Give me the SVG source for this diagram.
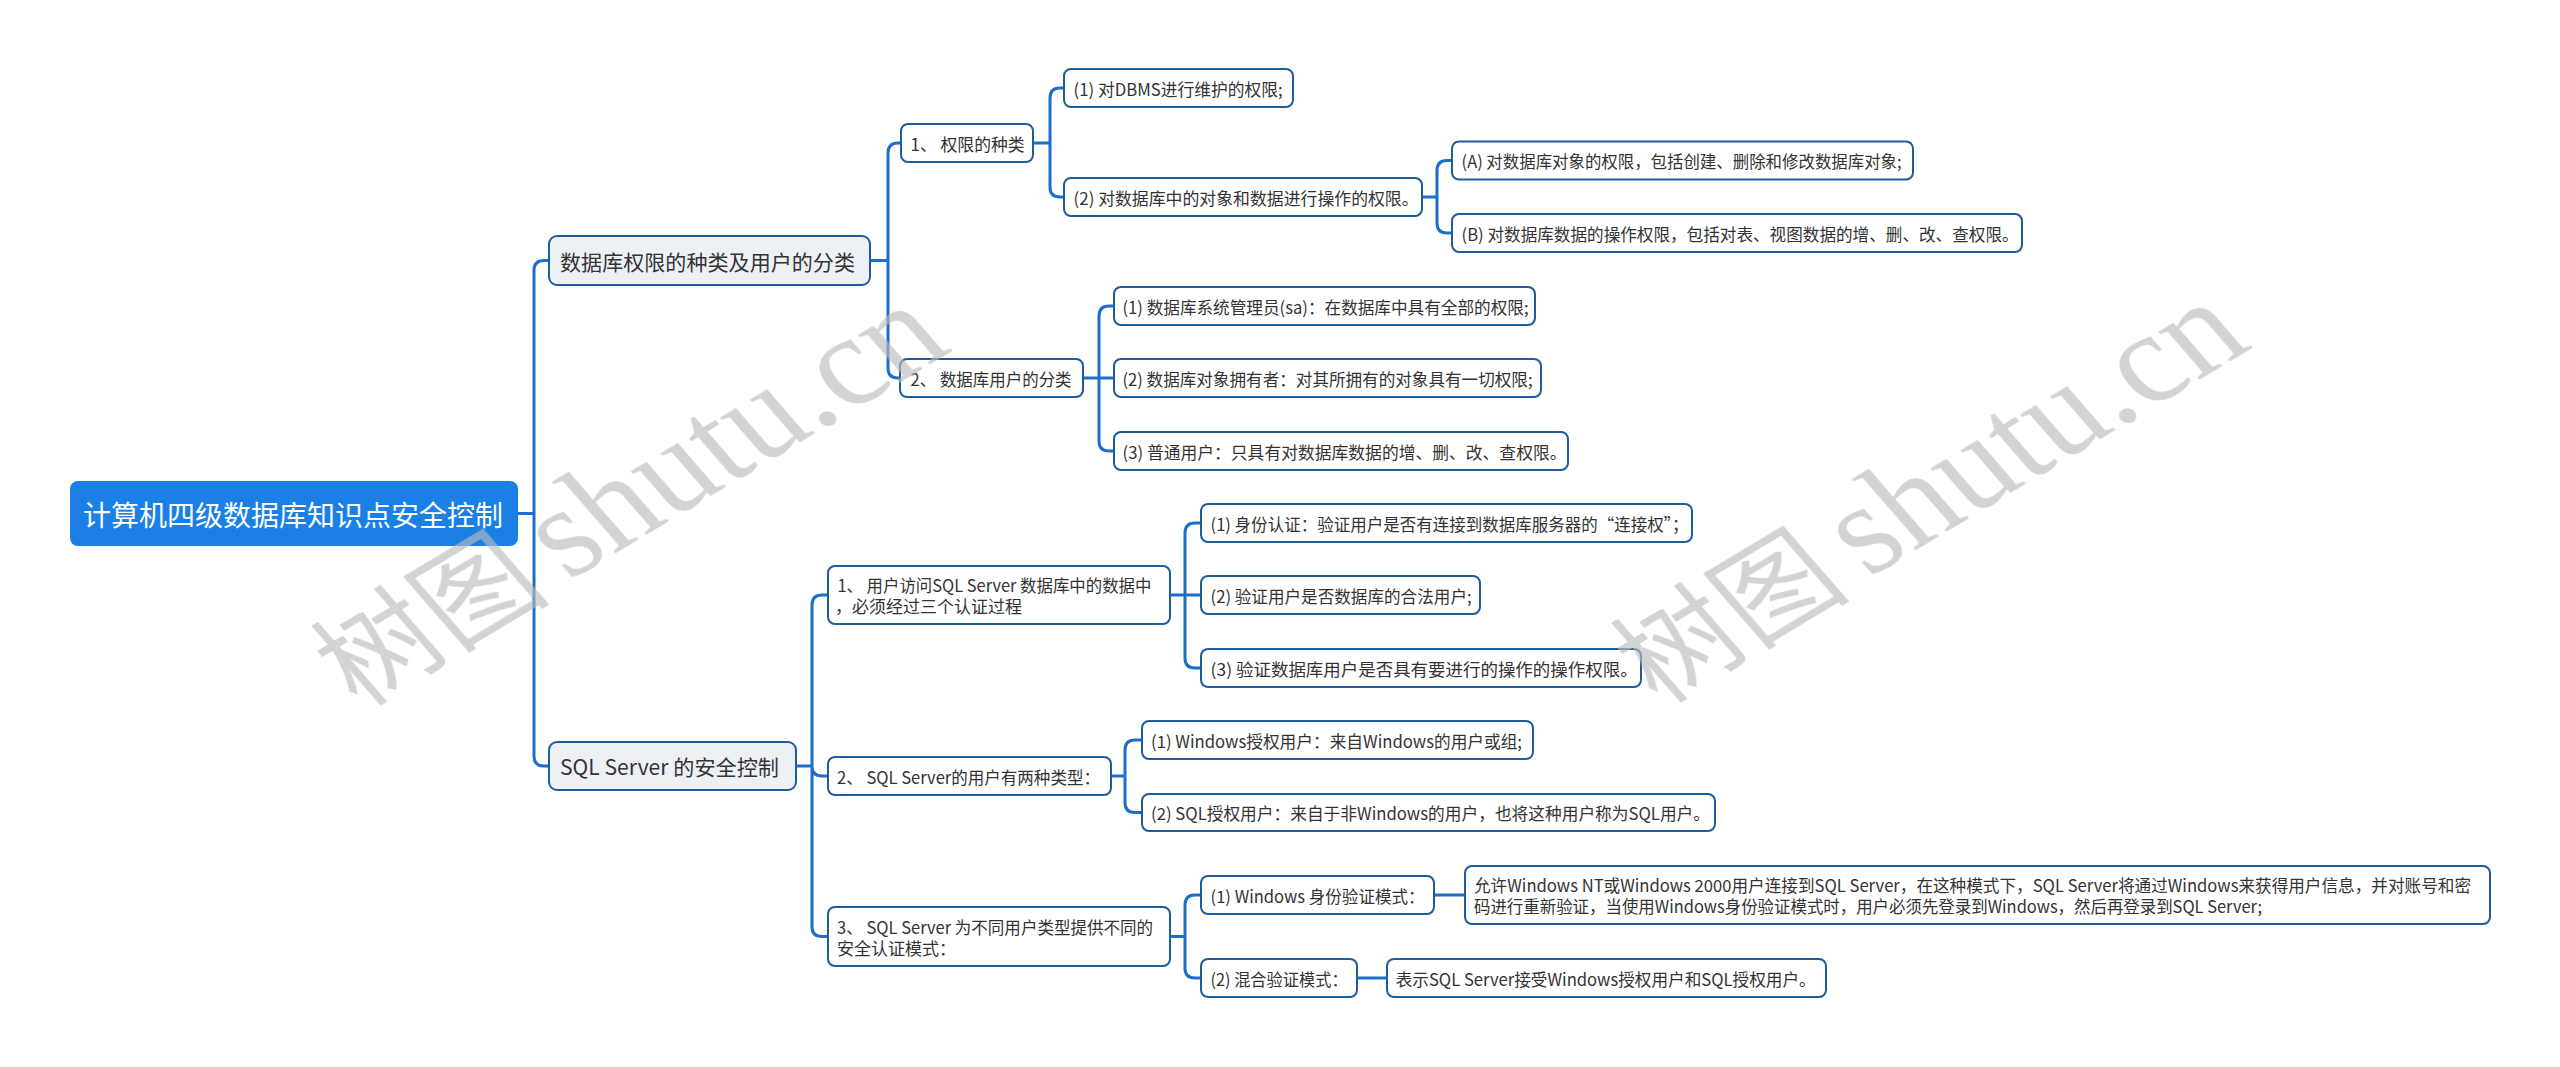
<svg xmlns="http://www.w3.org/2000/svg" width="2560" height="1067" viewBox="0 0 2560 1067">
<style>
.bg{fill:#ffffff}
.c{fill:none;stroke:#1c6ec9;stroke-width:3;stroke-linecap:round;stroke-linejoin:round}
.box{fill:#ffffff;stroke:#1e5c9e;stroke-width:2}
.l1{fill:#edf1f6;stroke:#1e5c9e;stroke-width:2}
.root{fill:#1a80e6}
text{font-family:"Noto Sans CJK SC","Noto Sans",sans-serif;dominant-baseline:central}
.t{font-size:17px;fill:#333333}
.t1{font-size:21px;fill:#333333}
.tr{font-size:28px;fill:#ffffff}
.wm{fill:#bbbbbb;opacity:0.65}
.wmc{font-family:"Noto Sans CJK SC",sans-serif;font-size:112px;dominant-baseline:alphabetic}
.wml{font-family:"Liberation Serif",serif;font-size:136px;dominant-baseline:alphabetic}
</style>
<rect class="bg" x="0" y="0" width="2560" height="1067"/>
<g id="connectors">
<path class="c" d="M518,513.5 H534 M534,513.5 V270.5 Q534,260.5 544,260.5 H549 M534,513.5 V756 Q534,766 544,766 H549"/>
<path class="c" d="M870,260.5 H888 M888,260.5 V153 Q888,143 898,143 H901 M888,260.5 V368 Q888,378 898,378 H900"/>
<path class="c" d="M1033,143 H1050 M1050,143 V98 Q1050,88 1060,88 H1064 M1050,143 V187 Q1050,197 1060,197 H1064"/>
<path class="c" d="M1422,197 H1437 M1437,197 V170.5 Q1437,160.5 1447,160.5 H1452 M1437,197 V223 Q1437,233 1447,233 H1452"/>
<path class="c" d="M1083,378 H1114 M1099,378 V316 Q1099,306 1109,306 H1114 M1099,378 V441 Q1099,451 1109,451 H1114"/>
<path class="c" d="M796,766 H812 M812,766 V605 Q812,595 822,595 H828 M812,766 Q812,776 822,776 H828 M812,766 V926.5 Q812,936.5 822,936.5 H828"/>
<path class="c" d="M1170,595 H1201 M1185,595 V533 Q1185,523 1195,523 H1201 M1185,595 V658 Q1185,668 1195,668 H1201"/>
<path class="c" d="M1111,776 H1125 M1125,776 V750 Q1125,740 1135,740 H1142 M1125,776 V802.5 Q1125,812.5 1135,812.5 H1142"/>
<path class="c" d="M1170,936.5 H1185 M1185,936.5 V905 Q1185,895 1195,895 H1201 M1185,936.5 V968 Q1185,978 1195,978 H1201"/>
<path class="c" d="M1434,895 H1465 M1357,978 H1387"/>
</g>
<g id="root"><rect class="root" x="70" y="481" width="448" height="65" rx="8"/><text class="tr" x="83" y="513.5" textLength="420" lengthAdjust="spacingAndGlyphs">计算机四级数据库知识点安全控制</text></g>
<g id="n-a"><rect class="l1" x="549" y="236" width="321" height="49" rx="8"/><text class="t1" x="560" y="260.5" textLength="295" lengthAdjust="spacingAndGlyphs">数据库权限的种类及用户的分类</text></g>
<g id="n-b"><rect class="l1" x="549" y="742" width="247" height="48" rx="8"/><text class="t1" x="560" y="766" textLength="219" lengthAdjust="spacingAndGlyphs">SQL Server 的安全控制</text></g>
<g id="n-a1"><rect class="box" x="901" y="124" width="132" height="38" rx="7"/><text class="t" x="910.6" y="143" textLength="114" lengthAdjust="spacingAndGlyphs">1、 权限的种类</text></g>
<g id="n-a11"><rect class="box" x="1064" y="69" width="229" height="38" rx="7"/><text class="t" x="1073.6" y="88" textLength="209" lengthAdjust="spacingAndGlyphs">(1) 对DBMS进行维护的权限;</text></g>
<g id="n-a12"><rect class="box" x="1064" y="178" width="358" height="38" rx="7"/><text class="t" x="1073.6" y="197" textLength="345" lengthAdjust="spacingAndGlyphs">(2) 对数据库中的对象和数据进行操作的权限。</text></g>
<g id="n-a121"><rect class="box" x="1452" y="141.5" width="461" height="38" rx="7"/><text class="t" x="1461.6" y="160.5" textLength="440" lengthAdjust="spacingAndGlyphs">(A) 对数据库对象的权限，包括创建、删除和修改数据库对象;</text></g>
<g id="n-a122"><rect class="box" x="1452" y="214" width="570" height="38" rx="7"/><text class="t" x="1461.6" y="233" textLength="557" lengthAdjust="spacingAndGlyphs">(B) 对数据库数据的操作权限，包括对表、视图数据的增、删、改、查权限。</text></g>
<g id="n-a2"><rect class="box" x="900" y="359" width="183" height="38" rx="7"/><text class="t" x="910.6" y="378" textLength="161" lengthAdjust="spacingAndGlyphs">2、 数据库用户的分类</text></g>
<g id="n-a21"><rect class="box" x="1114" y="287" width="421" height="38" rx="7"/><text class="t" x="1122.5" y="306" textLength="406" lengthAdjust="spacingAndGlyphs">(1) 数据库系统管理员(sa)：在数据库中具有全部的权限;</text></g>
<g id="n-a22"><rect class="box" x="1114" y="359" width="427" height="38" rx="7"/><text class="t" x="1122.5" y="378" textLength="410" lengthAdjust="spacingAndGlyphs">(2) 数据库对象拥有者：对其所拥有的对象具有一切权限;</text></g>
<g id="n-a23"><rect class="box" x="1114" y="432" width="454" height="38" rx="7"/><text class="t" x="1122.5" y="451" textLength="444" lengthAdjust="spacingAndGlyphs">(3) 普通用户：只具有对数据库数据的增、删、改、查权限。</text></g>
<g id="n-b1"><rect class="box" x="828" y="566" width="342" height="58" rx="7"/><text class="t" x="837.4" y="584.5" textLength="314" lengthAdjust="spacingAndGlyphs">1、 用户访问SQL Server 数据库中的数据中</text><text class="t" x="835" y="605.5">，必须经过三个认证过程</text></g>
<g id="n-b11"><rect class="box" x="1201" y="504" width="491" height="38" rx="7"/><text class="t" x="1210.6" y="523" textLength="478" lengthAdjust="spacingAndGlyphs">(1) 身份认证：验证用户是否有连接到数据库服务器的“连接权”；</text></g>
<g id="n-b12"><rect class="box" x="1201" y="576" width="279" height="38" rx="7"/><text class="t" x="1210.6" y="595" textLength="261" lengthAdjust="spacingAndGlyphs">(2) 验证用户是否数据库的合法用户;</text></g>
<g id="n-b13"><rect class="box" x="1201" y="649" width="440" height="38" rx="7"/><text class="t" x="1210.6" y="668" textLength="427" lengthAdjust="spacingAndGlyphs">(3) 验证数据库用户是否具有要进行的操作的操作权限。</text></g>
<g id="n-b2"><rect class="box" x="828" y="757" width="283" height="38" rx="7"/><text class="t" x="837" y="776" textLength="263" lengthAdjust="spacingAndGlyphs">2、 SQL Server的用户有两种类型：</text></g>
<g id="n-b21"><rect class="box" x="1142" y="721" width="391" height="38" rx="7"/><text class="t" x="1151" y="740" textLength="371" lengthAdjust="spacingAndGlyphs">(1) Windows授权用户：来自Windows的用户或组;</text></g>
<g id="n-b22"><rect class="box" x="1142" y="794" width="573" height="37" rx="7"/><text class="t" x="1151" y="812.5" textLength="559" lengthAdjust="spacingAndGlyphs">(2) SQL授权用户：来自于非Windows的用户，也将这种用户称为SQL用户。</text></g>
<g id="n-b3"><rect class="box" x="828" y="907" width="342" height="59" rx="7"/><text class="t" x="837" y="926" textLength="316" lengthAdjust="spacingAndGlyphs">3、 SQL Server 为不同用户类型提供不同的</text><text class="t" x="837" y="947">安全认证模式：</text></g>
<g id="n-b31"><rect class="box" x="1201" y="876" width="233" height="38" rx="7"/><text class="t" x="1210.6" y="895" textLength="214" lengthAdjust="spacingAndGlyphs">(1) Windows 身份验证模式：</text></g>
<g id="n-b311"><rect class="box" x="1465" y="866" width="1025" height="58" rx="7"/><text class="t" x="1474" y="884.5" textLength="997" lengthAdjust="spacingAndGlyphs">允许Windows NT或Windows 2000用户连接到SQL Server，在这种模式下，SQL Server将通过Windows来获得用户信息，并对账号和密</text><text class="t" x="1474" y="905.5" textLength="788" lengthAdjust="spacingAndGlyphs">码进行重新验证，当使用Windows身份验证模式时，用户必须先登录到Windows，然后再登录到SQL Server;</text></g>
<g id="n-b32"><rect class="box" x="1201" y="959" width="156" height="38" rx="7"/><text class="t" x="1210.6" y="978" textLength="137" lengthAdjust="spacingAndGlyphs">(2) 混合验证模式：</text></g>
<g id="n-b321"><rect class="box" x="1387" y="959" width="439" height="38" rx="7"/><text class="t" x="1395.7" y="978" textLength="420" lengthAdjust="spacingAndGlyphs">表示SQL Server接受Windows授权用户和SQL授权用户。</text></g>
<g id="watermark" class="wm">
<g transform="translate(352,700) rotate(-31) skewX(10)"><text class="wmc" x="0" y="10">树图</text><text class="wml" x="245" y="10" textLength="450" lengthAdjust="spacingAndGlyphs">shutu.cn</text></g>
<g transform="translate(1652,697) rotate(-31) skewX(10)"><text class="wmc" x="0" y="10">树图</text><text class="wml" x="245" y="10" textLength="450" lengthAdjust="spacingAndGlyphs">shutu.cn</text></g>
</g>
</svg>
